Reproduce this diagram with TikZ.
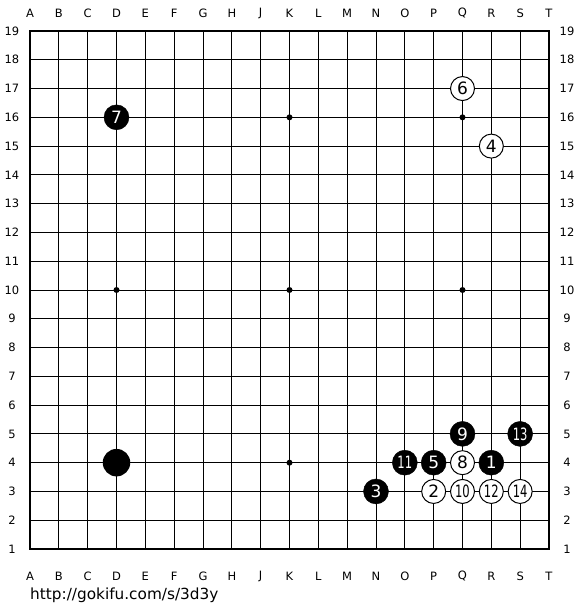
\documentclass[tikz,border=0pt]{standalone}
\usepackage{fontspec}
\setmainfont{DejaVu Sans}
\begin{document}
\begin{tikzpicture}[x=1pt,y=-1pt,
  coordlbl/.style={font=\fontsize{11.5}{11.5}\selectfont, inner sep=0pt},
  bstone/.style={circle, fill=black, draw=black, minimum size=25pt, inner sep=0pt, text=white, font=\fontsize{17}{17}\selectfont},
  wstone/.style={circle, fill=white, draw=black, line width=1pt, minimum size=24pt, inner sep=0pt, text=black, font=\fontsize{17}{17}\selectfont},
  star/.style={circle, fill=black, minimum size=6pt, inner sep=0pt}]
\useasboundingbox (0,0) rectangle (580,610);
\fill[white] (0,0) rectangle (580,610);
% grid
\foreach \i in {1,...,17}{
  \draw[line width=0.9pt] ({30+\i*28.833},31) -- ({30+\i*28.833},549);
  \draw[line width=0.9pt] (30,{31+\i*28.778}) -- (549,{31+\i*28.778});
}
\draw[line width=2pt] (30,31) rectangle (549,549);
% labels
\foreach \l [count=\c from 0] in {A,B,C,D,E,F,G,H,J,K,L,M,N,O,P,Q,R,S,T}{
  \node[coordlbl] (top\l) at ({30+\c*28.833},13) {\l};
  \node[coordlbl] (bot\l) at ({30+\c*28.833},576) {\l};
}
\foreach \r in {1,...,19}{
  \node[coordlbl] (lft\r) at (12,{549-(\r-1)*28.778}) {\r};
  \node[coordlbl] (rgt\r) at (567,{549-(\r-1)*28.778}) {\r};
}
% star points
\foreach \c/\r [count=\k] in {3/4,9/4,15/4,3/10,9/10,15/10,3/16,9/16,15/16}{
  \node[star] (s\k) at ({30+\c*28.833},{549-(\r-1)*28.778}) {};
}
% stones: column index / row
\newcommand{\stn}[5]{\node[#1] (#2) at ({30+#3*28.833},{549-(#4-1)*28.778}) {#5};}
\stn{bstone}{m1}{16}{4}{1}
\stn{wstone}{m2}{14}{3}{2}
\stn{bstone}{m3}{12}{3}{3}
\stn{wstone}{m4}{16}{15}{4}
\stn{bstone}{m5}{14}{4}{5}
\stn{wstone}{m6}{15}{17}{6}
\stn{bstone}{m7}{3}{16}{7}
\stn{wstone}{m8}{15}{4}{8}
\stn{bstone}{m9}{15}{5}{9}
\stn{wstone}{m10}{15}{3}{\scalebox{0.68}[1]{10}}
\stn{bstone}{m11}{13}{4}{\scalebox{0.68}[1]{11}}
\stn{wstone}{m12}{16}{3}{\scalebox{0.68}[1]{12}}
\stn{bstone}{m13}{17}{5}{\scalebox{0.68}[1]{13}}
\stn{wstone}{m14}{17}{3}{\scalebox{0.68}[1]{14}}
\node[circle, fill=black, minimum size=27.5pt, inner sep=0pt] (dd4) at ({30+3*28.833},{549-3*28.778}) {};
% url
\node[anchor=west, inner sep=0pt, font=\fontsize{15.3}{15.3}\selectfont] (url) at (30,595) {http://gokifu.com/s/3d3y};
\end{tikzpicture}
\end{document}
